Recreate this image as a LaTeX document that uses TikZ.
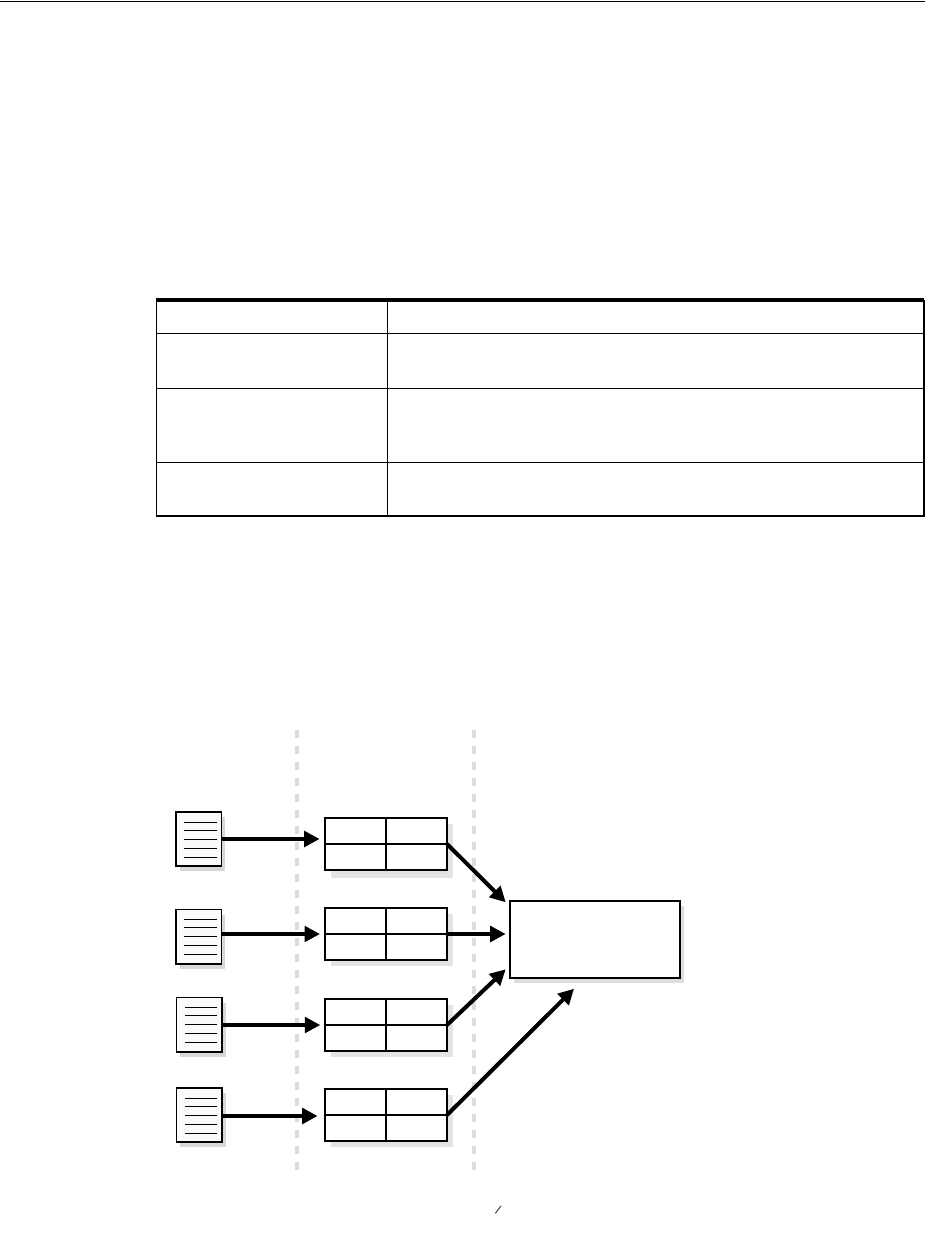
\documentclass[tikz,border=0pt]{standalone}
\usepackage{tikz}
\usetikzlibrary{arrows.meta,positioning,calc,shadows}
\definecolor{SombraDoc}{HTML}{D8D8D8}
\definecolor{SombraTab}{HTML}{E3E3E3}
\definecolor{SombraDest}{HTML}{DDDDDD}
\definecolor{Separador}{HTML}{DCDCDC}
\definecolor{FondoDoc}{HTML}{FAFAFA}
\tikzset{
  hoja/.style    = {draw, line width=1.5pt, fill=FondoDoc, minimum width=45.4pt,
                    minimum height=54.4pt, inner sep=0pt, outer sep=0pt,
                    drop shadow={shadow xshift=3.6pt, shadow yshift=-5pt,
                                 fill=SombraDoc, opacity=1}},
  tabla/.style   = {draw, line width=1.9pt, fill=white, minimum width=122pt,
                    minimum height=51.5pt, inner sep=0pt, outer sep=0pt,
                    drop shadow={shadow xshift=5.8pt, shadow yshift=-6pt,
                                 fill=SombraTab, opacity=1}},
  destino/.style = {draw, line width=2.2pt, fill=white, minimum width=170pt,
                    minimum height=76.6pt, inner sep=0pt, outer sep=0pt,
                    drop shadow={shadow xshift=4pt, shadow yshift=-5pt,
                                 fill=SombraDest, opacity=1}},
  flecha/.style  = {-{Triangle[length=15.5pt,width=15.5pt]}, line width=4pt},
  linea/.style   = {line width=1.1pt},
  reja/.style    = {line width=1.9pt},
  separa/.style  = {draw=Separador, line width=4pt, dash pattern=on 8pt off 8pt},
}
\begin{document}
\begin{tikzpicture}[x=1pt, y=-1pt]
  \useasboundingbox (0,0) rectangle (925,1249);
  \coordinate (regla1) at (0,1.3);
  \coordinate (regla2) at (925,1.3);
  \draw[line width=1.3pt] (regla1) -- (regla2);
  \coordinate (filaA) at (156.3,300);
  \coordinate (filaB) at (924,300);
  \draw[line width=3.8pt] (filaA) -- (filaB);
  \foreach \y in {333.3,388.3,462.3,516}
    \draw[linea] (156.3,\y) -- (924,\y);
  \foreach \x in {156.3,387.3,924}
    \draw[linea] (\x,300) -- (\x,516.5);
  \coordinate (sep1a) at (297,730);
  \coordinate (sep1b) at (297,1170);
  \coordinate (sep2a) at (474,730);
  \coordinate (sep2b) at (474,1170);
  \draw[separa] (sep1a) -- (sep1b);
  \draw[separa] (sep2a) -- (sep2b);
  \node[hoja] (doc1) at (198.7,839) {};
  \node[hoja] (doc2) at (198.7,936.7) {};
  \node[hoja] (doc3) at (199.2,1024.7) {};
  \node[hoja] (doc4) at (199.2,1115) {};
  \foreach \n in {1,2,3,4}
    \foreach \y in {10.3,18.3,27.3,36.3,45.3}
      \draw[linea] ($(doc\n.north west)+(8.3,\y)$) -- ($(doc\n.north east)+(-4.9,\y)$);
  \node[tabla, drop shadow={shadow xshift=5.8pt, shadow yshift=-8pt, fill=SombraTab, opacity=1}] (tab1) at (386,844) {};
  \node[tabla] (tab2) at (386,934) {};
  \node[tabla] (tab3) at (386,1025) {};
  \node[tabla] (tab4) at (386,1115) {};
  \foreach \n in {1,2,3,4} {
    \draw[reja] (tab\n.west) -- (tab\n.east);
    \draw[reja] (tab\n.north) -- (tab\n.south);
  }
  \node[destino] (dest) at (595,939.5) {};
  \draw[flecha, shorten >=5.4pt] (doc1.east) -- (doc1.east -| tab1.west);
  \draw[flecha, shorten >=5pt] (doc2.east |- tab2.west) -- (tab2.west);
  \draw[flecha, shorten >=4.7pt] (doc3.east |- tab3.west) -- (tab3.west);
  \draw[flecha, shorten >=7.4pt] ([yshift=-1pt]doc4.east |- tab4.west) -- ([yshift=-1pt]tab4.west);
  \coordinate (pico1) at (505.7,902.3);
  \coordinate (pico2) at (505.7,934);
  \coordinate (pico3) at (505.7,969.3);
  \coordinate (pico4) at (574,988.7);
  \draw[flecha] (tab1.east) -- (pico1);
  \draw[flecha] (tab2.east) -- (pico2);
  \draw[flecha] (tab3.east) -- (pico3);
  \draw[flecha] (tab4.east) -- (pico4);
  \coordinate (trazo1) at (495.3,1213.3);
  \coordinate (trazo2) at (501,1206);
  \draw[line width=0.9pt, black!80] (trazo1) -- (trazo2);
\end{tikzpicture}
\end{document}
